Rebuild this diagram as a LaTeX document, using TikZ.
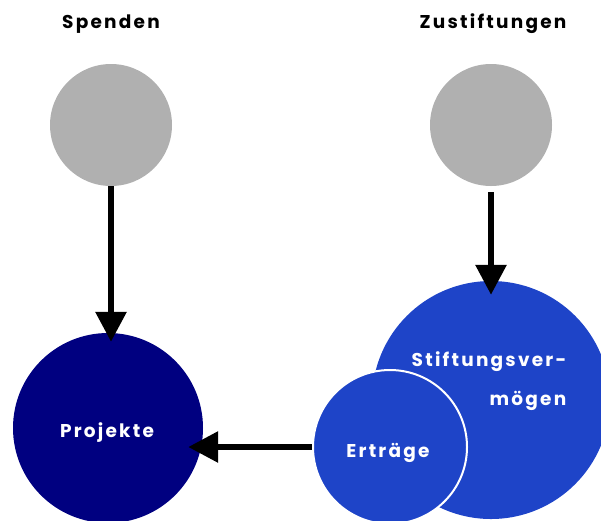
\documentclass[tikz,border=0pt]{standalone}
\usepackage{fontspec}
\setmainfont{Poppins}
\newfontfamily\lblfont[LetterSpace=12]{Poppins}
\usetikzlibrary{calc, arrows.meta}

\definecolor{greycirc}{HTML}{B0B0B0}
\definecolor{navycirc}{HTML}{000080}
\definecolor{bluecirc}{HTML}{1E44C8}

\begin{document}
\begin{tikzpicture}[x=1pt, y=-1pt,
    circ/.style={circle, inner sep=0pt},
    lbl/.style={font=\lblfont\bfseries\fontsize{18.5}{22}\selectfont, anchor=base},
    flow/.style={line width=6pt, -{Triangle[width=30pt, length=30pt]}}]
    \useasboundingbox (0, 0) rectangle (601, 520);

    \node [lbl] (tS) at (111, 28) {Spenden};
    \node [lbl] (tZ) at (493, 28) {Zustiftungen};

    \node [circ, fill=greycirc, minimum size=122pt] (S) at (111, 125) {};
    \node [circ, fill=greycirc, minimum size=122pt] (Z) at (491, 125) {};

    \node [circ, fill=navycirc, minimum size=190pt] (P) at (108, 428) {};
    \node [lbl, white] (tP) at (107, 437) {Projekte};

    \node [circ, fill=bluecirc, minimum size=238pt] (V) at (491, 400) {};
    \node [lbl, white, align=right, anchor=center] (tV) at (489, 381)
        {Stiftungsver-\\[17pt]mögen};
    \node [circ, fill=bluecirc, draw=white, line width=2pt, minimum size=154pt] (E) at (390, 447) {};
    \node [lbl, white] (tE) at (388, 457) {Erträge};

    \draw [flow, shorten >=-9pt] (S.south) -- (S.south |- P.north);
    \draw [flow, shorten <=6pt, shorten >=-14pt] (Z.south) -- (Z.south |- V.north);
    \draw [flow, shorten >=-15pt] (E.west) -- (E.west -| P.east);
\end{tikzpicture}
\end{document}
